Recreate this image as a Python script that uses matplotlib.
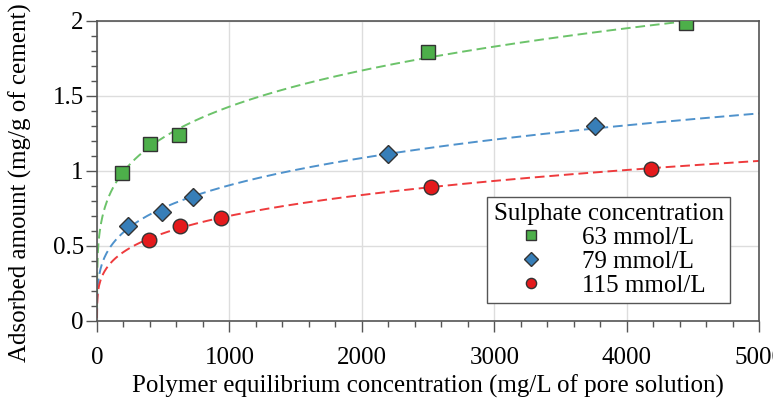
import numpy as np
import matplotlib.pyplot as plt
from matplotlib.ticker import MultipleLocator, FuncFormatter

plt.rcParams['font.family'] = ['Liberation Serif', 'DejaVu Serif']

# polymer equilibrium concentration (mg/L) and adsorbed amount (mg/g)
c_63 = [186, 400, 619, 2497, 4449]
q_63 = [0.985, 1.18, 1.24, 1.79, 1.985]
c_79 = [234, 489, 727, 2200, 3761]
q_79 = [0.635, 0.725, 0.825, 1.113, 1.30]
c_115 = [393, 627, 937, 2520, 4182]
q_115 = [0.538, 0.635, 0.689, 0.895, 1.011]

labels = ['63 mmol/L', '79 mmol/L', '115 mmol/L']
series = [(c_63, q_63), (c_79, q_79), (c_115, q_115)]
marker_colors = ['#4daf4a', '#377eb8', '#e41a1c']
line_colors = ['#6cc36a', '#4f92cc', '#ee3b3d']
markers = ['s', 'D', 'o']
msizes = [10, 9.5, 10.5]

xx = np.concatenate([np.geomspace(1e-3, 1, 60), np.linspace(1, 5000, 1000)])
fig = plt.figure(figsize=(7.73, 4.03), dpi=100)
ax = fig.add_axes([0.1255, 0.2035, 0.8565, 0.7445])

for (c, q), lab, mc, lc, mk, ms in zip(series, labels, marker_colors,
                                        line_colors, markers, msizes):
    # Freundlich fit q = K c^n on the points
    n, lnk = np.polyfit(np.log(c), np.log(q), 1)
    ax.plot(xx, np.exp(lnk) * xx ** n, ls=(0, (5, 2.5)), lw=1.4, color=lc, zorder=2)
    ax.plot(c, q, ls='none', marker=mk, ms=ms, mfc=mc,
            mec='#333333', mew=1.0, label=lab, zorder=3)

ax.set_xlim(0, 5000)
ax.set_ylim(0, 2)
ax.xaxis.set_major_locator(MultipleLocator(1000))
ax.xaxis.set_minor_locator(MultipleLocator(200))
ax.yaxis.set_major_locator(MultipleLocator(0.5))
ax.yaxis.set_minor_locator(MultipleLocator(0.1))
ax.yaxis.set_major_formatter(FuncFormatter(lambda v, p: f'{v:g}'))
ax.grid(True, which='major', color='#dddddd', lw=1.0, zorder=0)
ax.set_axisbelow(True)
for s in ax.spines.values():
    s.set_color('#555555')
    s.set_linewidth(1.2)
ax.tick_params(which='major', length=8, width=1, color='#555555', labelsize=18)
ax.tick_params(which='minor', length=4.5, width=1, color='#555555')
ax.tick_params(axis='x', which='major', pad=11)
ax.tick_params(axis='y', which='major', pad=1.5)

ax.set_xlabel('Polymer equilibrium concentration (mg/L of pore solution)', fontsize=18, labelpad=3.5)
ax.set_ylabel('Adsorbed amount (mg/g of cement)', fontsize=18)
ax.yaxis.set_label_coords(-0.098, 0.46)

leg = ax.legend(title='Sulphate concentration', loc='lower right',
                bbox_to_anchor=(0.956, 0.06), borderaxespad=0,
                fontsize=18, title_fontsize=18,
                fancybox=False, edgecolor='#555555', framealpha=1,
                markerscale=0.7, handletextpad=1.3, borderpad=0.25,
                labelspacing=0.05, handlelength=1.5)
leg.get_frame().set_linewidth(1.0)

fig.savefig('out.png', dpi=100)
